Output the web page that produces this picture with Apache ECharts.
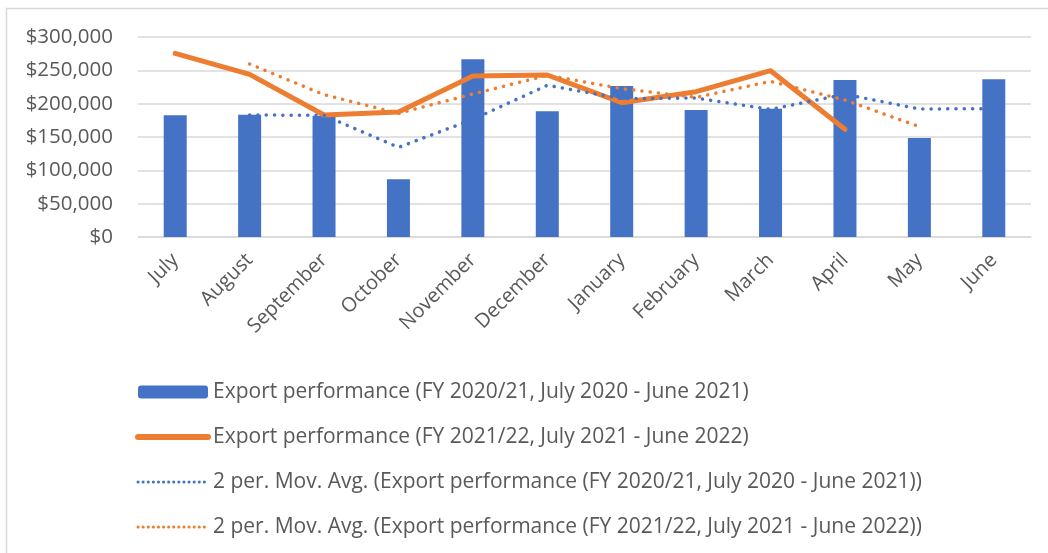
<!DOCTYPE html>
<html>
<head>
<meta charset="utf-8">
<script src="https://cdn.jsdelivr.net/npm/echarts@6/dist/echarts.min.js"></script>
<style>
  * { margin: 0; padding: 0; }
  body { background: #fff; }
  #chart { width: 1048px; height: 553px; }
</style>
</head>
<body>
<div id="chart"></div>
<script>
var months = ["July", "August", "September", "October", "November", "December",
  "January", "February", "March", "April", "May", "June"];

var fy2021 = [182500, 183500, 182000, 86500, 266500, 188500, 226500, 190500, 192500, 235500, 148500, 236500];
var fy2122 = [275500, 244000, 183000, 187500, 241500, 243000, 201500, 218000, 249500, 161500, null, null];

// 2 period moving averages as drawn by the trendlines (start at August)
var mavg2021 = [null, 183000, 182500, 134500, 176500, 227500, 207500, 208500, 191500, 214000, 192000, 192500];
var mavg2122 = [null, 259500, 213500, 185500, 214500, 242500, 222500, 209500, 233500, 205500, 165500, null];

var names = [
  "Export performance (FY 2020/21, July 2020 - June 2021)",
  "Export performance (FY 2021/22, July 2021 - June 2022)",
  "2 per. Mov. Avg. (Export performance (FY 2020/21, July 2020 - June 2021))",
  "2 per. Mov. Avg. (Export performance (FY 2021/22, July 2021 - June 2022))"
];

var blue = "#4472C4", orange = "#ED7D31", grey = "#595959";
var font = "Open Sans";
var dots = [0.1, 8.2];

var chart = echarts.init(document.getElementById("chart"));
chart.setOption({
  animation: false,
  textStyle: { fontFamily: font },
  graphic: [{
    type: "rect",
    shape: { x: 6.5, y: 8.5, width: 1100, height: 600 },
    style: { fill: "none", stroke: "#d9d9d9", lineWidth: 1.5 },
    silent: true
  }],
  grid: { left: 138, right: 17, top: 37, bottom: 316, outerBoundsMode: "none" },
  legend: {
    orient: "vertical",
    left: 130,
    top: 376,
    itemWidth: 70,
    itemHeight: 13,
    itemGap: 23,
    textStyle: { color: grey, fontSize: 21, lineHeight: 22, fontFamily: font },
    data: [
      { name: names[0] },
      { name: names[1], itemStyle: { opacity: 0 }, lineStyle: { width: 6, cap: "round" } },
      { name: names[2], itemStyle: { opacity: 0 }, lineStyle: { width: 3, type: [0.1, 5], cap: "round" } },
      { name: names[3], itemStyle: { opacity: 0 }, lineStyle: { width: 3, type: [0.1, 5], cap: "round" } }
    ]
  },
  xAxis: {
    type: "category",
    data: months,
    axisLine: { lineStyle: { color: "#d9d9d9", width: 1.5 } },
    axisTick: { show: false },
    axisLabel: { rotate: 45, color: grey, fontSize: 20, margin: 20, interval: 0, fontFamily: font }
  },
  yAxis: {
    type: "value",
    min: 0,
    max: 300000,
    interval: 50000,
    axisLine: { show: false },
    axisTick: { show: false },
    splitLine: { lineStyle: { color: "#d9d9d9", width: 1.5 } },
    axisLabel: {
      color: grey, fontSize: 20.5, margin: 25, fontFamily: font,
      formatter: function (v) { return "$" + v.toLocaleString("en-US"); }
    }
  },
  series: [
    {
      name: names[0],
      type: "bar",
      data: fy2021,
      barWidth: 23,
      itemStyle: { color: blue },
      z: 1
    },
    {
      name: names[1],
      type: "line",
      data: fy2122,
      symbol: "none",
      lineStyle: { color: orange, width: 5, cap: "round", join: "round" },
      itemStyle: { color: orange },
      z: 3
    },
    {
      name: names[2],
      type: "line",
      data: mavg2021,
      symbol: "none",
      lineStyle: { color: blue, width: 3.5, type: dots, cap: "round" },
      itemStyle: { color: blue },
      z: 4
    },
    {
      name: names[3],
      type: "line",
      data: mavg2122,
      symbol: "none",
      lineStyle: { color: orange, width: 3.5, type: dots, cap: "round" },
      itemStyle: { color: orange },
      z: 5
    }
  ]
});
</script>
</body>
</html>
